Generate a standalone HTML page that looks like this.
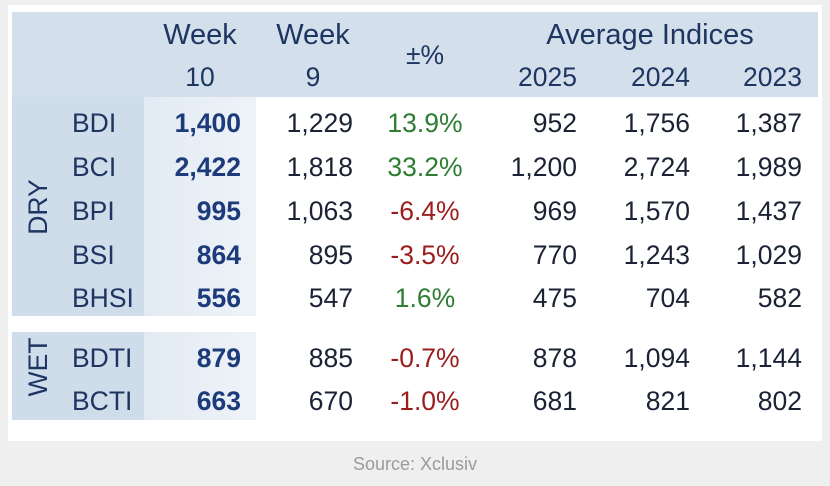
<!DOCTYPE html>
<html><head><style>
body{margin:0;width:830px;height:486px;background:#efefef;position:relative;font-family:"Liberation Sans",sans-serif;overflow:hidden}
.card{position:absolute;left:8px;top:5px;width:814px;height:436px;background:#fff}
.b{position:absolute;background:#d3e0ec}
.t{position:absolute;font-size:26.5px;color:#1d3560;white-space:nowrap;line-height:30px}
.h{font-size:29px}
.r{text-align:right}
.c{text-align:center}
.n{color:#1a2233}
.g{color:#2e7d32}
.d{color:#9b1c1c}
.bold{font-weight:bold;color:#1d3a7a}
</style></head><body>
<div class="card"></div>
<div class="b" style="left:12px;top:12px;width:806px;height:85px"></div>
<div class="b" style="left:12px;top:97px;width:132px;height:219px;background:#cfdcea"></div>
<div class="b" style="left:12px;top:332px;width:132px;height:88px;background:#cfdcea"></div>
<div class="b" style="left:144px;top:97px;width:112px;height:219px;background:linear-gradient(90deg,#e2eaf3,#eef3f8)"></div>
<div class="b" style="left:144px;top:332px;width:112px;height:88px;background:linear-gradient(90deg,#e2eaf3,#eef3f8)"></div>

<div class="t c h" style="left:144px;width:112px;top:20px">Week</div>
<div class="t c" style="left:144px;width:112px;top:62px">10</div>
<div class="t c h" style="left:258px;width:110px;top:20px">Week</div>
<div class="t c" style="left:258px;width:110px;top:62px">9</div>
<div class="t c" style="left:380px;width:90px;top:40px">±%</div>
<div class="t c h" style="left:490px;width:320px;top:20px">Average Indices</div>
<div class="t r" style="left:480px;width:97px;top:62px">2025</div>
<div class="t r" style="left:590px;width:100px;top:62px">2024</div>
<div class="t r" style="left:700px;width:102px;top:62px">2023</div>

<div class="t" style="left:38px;top:207px;transform:translate(-50%,-50%) rotate(-90deg)">DRY</div>
<div class="t" style="left:38px;top:367px;transform:translate(-50%,-50%) rotate(-90deg)">WET</div>

<div id="rows"></div>
<script>
var rows=[["BDI","1,400","1,229","13.9%","g","952","1,756","1,387",108],
["BCI","2,422","1,818","33.2%","g","1,200","2,724","1,989",152],
["BPI","995","1,063","-6.4%","d","969","1,570","1,437",196],
["BSI","864","895","-3.5%","d","770","1,243","1,029",240],
["BHSI","556","547","1.6%","g","475","704","582",283],
["BDTI","879","885","-0.7%","d","878","1,094","1,144",343],
["BCTI","663","670","-1.0%","d","681","821","802",386]];
var h="";
rows.forEach(function(r){var y=r[8];
h+='<div class="t" style="left:72px;top:'+y+'px">'+r[0]+'</div>';
h+='<div class="t r bold" style="left:144px;width:97px;top:'+y+'px">'+r[1]+'</div>';
h+='<div class="t r n" style="left:256px;width:97px;top:'+y+'px">'+r[2]+'</div>';
h+='<div class="t c '+r[4]+'" style="left:380px;width:90px;top:'+y+'px">'+r[3]+'</div>';
h+='<div class="t r n" style="left:470px;width:107px;top:'+y+'px">'+r[5]+'</div>';
h+='<div class="t r n" style="left:580px;width:110px;top:'+y+'px">'+r[6]+'</div>';
h+='<div class="t r n" style="left:690px;width:112px;top:'+y+'px">'+r[7]+'</div>';});
document.getElementById("rows").innerHTML=h;
</script>
<div style="position:absolute;left:0;width:830px;top:454px;text-align:center;font-size:18px;color:#9a9a9a">Source: Xclusiv</div>
</body></html>
